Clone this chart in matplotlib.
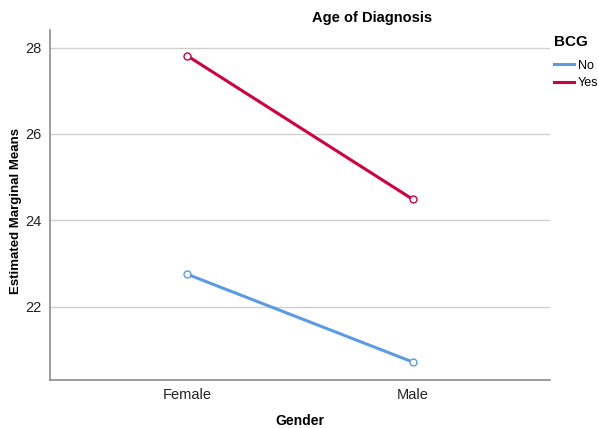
import matplotlib
matplotlib.use("Agg")
from matplotlib import pyplot as plt
from matplotlib.lines import Line2D

plt.rcParams['font.family'] = ['Liberation Sans', 'DejaVu Sans']

genders = ["Female", "Male"]
groups = ["No", "Yes"]
means_no = [22.75, 20.72]
means_yes = [27.81, 24.49]
colors = {"No": "#5b9be6", "Yes": "#d1003f"}

fig = plt.figure(figsize=(5.99, 4.28), dpi=100)
ax = fig.add_axes([0.0835, 0.112, 0.8345, 0.818])

xs = list(range(len(genders)))
for name, vals in zip(groups, [means_no, means_yes]):
    ax.plot(xs, vals, color=colors[name], linewidth=2.2, marker="o",
            markersize=5, markerfacecolor="white", markeredgewidth=1.0,
            markeredgecolor=colors[name], zorder=3)

ax.set_xlim(-0.61, 1.61)
ax.set_ylim(20.3, 28.41)
ax.set_xticks(xs)
ax.set_xticklabels(genders)
ax.set_yticks([22, 24, 26, 28])
ax.tick_params(length=0, labelsize=10.5, colors="#222222", pad=6)
ax.grid(axis="y", color="#d0d0d0", linewidth=1)
ax.set_axisbelow(True)
for side in ["top", "right"]:
    ax.spines[side].set_visible(False)
for side in ["left", "bottom"]:
    ax.spines[side].set_color("#8c8c8c")
    ax.spines[side].set_linewidth(1.2)

fig.text(0.026, 0.506, "Estimated Marginal Means", fontsize=9.5, fontweight="bold",
         rotation=90, ha="center", va="center")
fig.text(0.501, 0.016, "Gender", fontsize=10, fontweight="bold",
         ha="center", va="center")
fig.text(0.621, 0.958, "Age of Diagnosis", fontsize=10.5, fontweight="bold",
         ha="center", va="center")

# legend
fig.text(0.925, 0.902, "BCG", fontsize=11, fontweight="bold", ha="left", va="center")
handles = [Line2D([0], [0], color=colors[g], linewidth=2.2) for g in groups]
leg = fig.legend(handles, groups, loc="upper left", bbox_to_anchor=(0.917, 0.872),
                 frameon=False, fontsize=9, handlelength=1.6, handletextpad=0.3,
                 labelspacing=0.45, borderaxespad=0)

fig.savefig("out.png", dpi=100)
